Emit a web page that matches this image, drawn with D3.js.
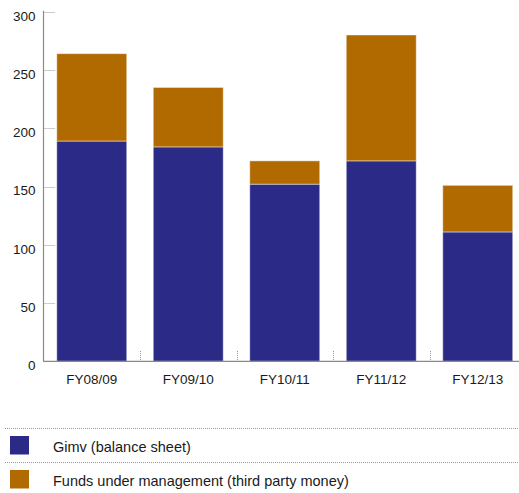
<!DOCTYPE html>
<html>
<head>
<meta charset="utf-8">
<script src="https://cdn.jsdelivr.net/npm/d3@7"></script>
<style>
  html, body { margin: 0; padding: 0; background: #fff; }
  svg { display: block; font-family: "Liberation Sans", Arial, Helvetica, sans-serif; }
</style>
</head>
<body>
<svg id="chart" width="519" height="493"></svg>
<script>
// Fiscal years
const categories = ["FY08/09", "FY09/10", "FY10/11", "FY11/12", "FY12/13"];
// Gimv balance sheet
const gimvValues = [189, 184, 152, 172, 111];
// Funds under management (third party money)
const fundValues = [75, 51, 20, 108, 40];
// Y axis ticks
const yTicks = [0, 50, 100, 150, 200, 250, 300];

const seriesNames = ["Gimv (balance sheet)", "Funds under management (third party money)"];
const colors = ["#2b2a86", "#b06a00"];

const svg = d3.select("#chart");
const plotLeft = 43.5, plotRight = 526, plotTop = 11.7, plotBottom = 361.3;

const x = d3.scaleBand().domain(categories).range([plotLeft, plotRight]).paddingInner(0.275).paddingOuter(0.1375);
const y = d3.scaleLinear().domain([0, 300]).range([plotBottom, plotTop]);

const rows = categories.map((c, i) => ({ cat: c, gimv: gimvValues[i], funds: fundValues[i] }));
const stacked = d3.stack().keys(["gimv", "funds"])(rows);

// Tick marks on the value axis (short dotted stubs)
svg.append("g").selectAll("line").data(yTicks.filter(d => d > 0)).join("line")
  .attr("x1", plotLeft).attr("x2", plotLeft + 11)
  .attr("y1", d => Math.round(y(d)) + 0.5).attr("y2", d => Math.round(y(d)) + 0.5)
  .attr("stroke", "#999").attr("stroke-width", 1).attr("stroke-dasharray", "1,1");

// Value axis labels, sitting just below their tick
svg.append("g").selectAll("text").data(yTicks).join("text")
  .attr("x", 35.5).attr("y", d => y(d) + 8.8)
  .attr("text-anchor", "end").attr("font-size", 13.5).attr("fill", "#1a1a1a")
  .text(d => d);

// Category separators on the base line
const bounds = categories.slice(1).map(c => x(c) - x.step() * x.paddingInner() / 2);
svg.append("g").selectAll("line").data(bounds).join("line")
  .attr("x1", d => Math.round(d) + 0.5).attr("x2", d => Math.round(d) + 0.5)
  .attr("y1", 351).attr("y2", plotBottom)
  .attr("stroke", "#999").attr("stroke-dasharray", "1,1");

// Stacked bars
svg.append("g").selectAll("g").data(stacked).join("g")
  .attr("fill", (d, i) => colors[i])
  .selectAll("rect").data(d => d).join("rect")
  .attr("x", d => x(d.data.cat))
  .attr("width", x.bandwidth())
  .attr("y", d => y(d[1]))
  .attr("height", d => y(d[0]) - y(d[1]))
  .attr("stroke", "rgba(255,255,255,0.45)").attr("stroke-width", 1);

// Axis lines
svg.append("line").attr("x1", plotLeft).attr("x2", plotLeft).attr("y1", plotTop - 1).attr("y2", plotBottom)
  .attr("stroke", "#8a8a8a").attr("stroke-width", 1.2);
svg.append("line").attr("x1", plotLeft - 0.5).attr("x2", 519).attr("y1", plotBottom).attr("y2", plotBottom)
  .attr("stroke", "#8a8a8a").attr("stroke-width", 1.2);

// Category labels
svg.append("g").selectAll("text").data(categories).join("text")
  .attr("x", d => x(d) + x.bandwidth() / 2).attr("y", 384)
  .attr("text-anchor", "middle").attr("font-size", 13.5).attr("fill", "#1a1a1a")
  .text(d => d);

// Legend
const legendRows = [428.5, 462.5];
svg.append("g").selectAll("line").data(legendRows).join("line")
  .attr("x1", 5).attr("x2", 519).attr("y1", d => d).attr("y2", d => d)
  .attr("stroke", "#999").attr("stroke-dasharray", "1,1");
const lg = svg.append("g").selectAll("g").data(seriesNames).join("g")
  .attr("transform", (d, i) => `translate(0,${legendRows[i]})`);
lg.append("rect").attr("x", 10).attr("y", 7.5).attr("width", 19).attr("height", 18.5)
  .attr("fill", (d, i) => colors[i]);
lg.append("text").attr("x", 53).attr("y", 23.5).attr("font-size", 14.5).attr("fill", "#1a1a1a")
  .text(d => d);
</script>
</body>
</html>
